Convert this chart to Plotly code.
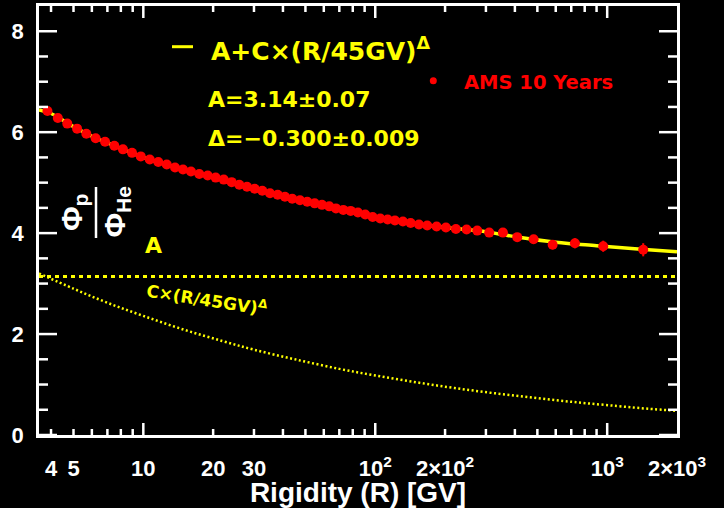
import plotly.graph_objects as go
import math

# ---- data ----
rigidity = [3.86, 4.28, 4.70, 5.18, 5.68, 6.23, 6.84, 7.50, 8.17, 8.94, 9.75, 10.66, 11.60,
            12.62, 13.70, 14.83, 16.05, 17.43, 18.95, 20.51, 22.22, 24.04, 25.93, 27.99,
            30.21, 32.58, 35.17, 37.96, 40.81, 43.87, 47.36, 50.91, 54.81, 58.93, 63.34,
            67.70, 72.81, 78.34, 84.20, 90.55, 97.45, 105.1, 113.1, 121.6, 131.6, 142.1,
            154.3, 167.5, 183.9, 201.7, 222.7, 247.7, 275.3, 310.0, 355.1, 409.4, 481.7,
            581.9, 726.0, 961.2, 1430.0]
ratio = [6.42, 6.28, 6.17, 6.07, 5.97, 5.88, 5.81, 5.73, 5.66, 5.59, 5.52, 5.46, 5.41,
         5.36, 5.30, 5.26, 5.22, 5.17, 5.14, 5.10, 5.06, 5.01, 4.96, 4.92,
         4.88, 4.84, 4.79, 4.76, 4.72, 4.68, 4.65, 4.62, 4.59, 4.56, 4.53,
         4.49, 4.46, 4.44, 4.41, 4.37, 4.32, 4.29, 4.27, 4.25, 4.23, 4.20,
         4.17, 4.15, 4.13, 4.11, 4.08, 4.07, 4.05, 4.01, 4.01, 3.92, 3.88,
         3.77, 3.80, 3.74, 3.67]
ratio_err = [0.02] * 53 + [0.03, 0.04, 0.05, 0.06, 0.09, 0.10, 0.11, 0.13]

# fitted curve A + C x (R/45GV)^Delta
fit_r = [3.55, 4, 5, 6, 8, 10, 13, 17, 22, 30, 40, 55, 75, 100, 140, 200, 280, 400,
         600, 900, 1400, 2000]
fit_val = [6.44, 6.37, 6.11, 5.92, 5.68, 5.50, 5.34, 5.185, 5.065, 4.884, 4.73, 4.588,
           4.452, 4.31, 4.205, 4.11, 4.045, 3.93, 3.82, 3.75, 3.68, 3.63]
# C x (R/45GV)^Delta component
c_r = [3.55, 5, 7, 10, 15, 22, 30, 45, 70, 100, 150, 220, 330, 500, 750, 1100, 1500, 2000]
c_val = [3.20, 2.90, 2.62, 2.36, 2.085, 1.86, 1.69, 1.50, 1.31, 1.18, 1.045, 0.93, 0.825,
         0.73, 0.645, 0.575, 0.52, 0.48]
A_value = 3.14
a_line_r = [3.55, 2000]

x_label_vals = [4, 5, 10, 20, 30, 100, 200, 1000, 2000]
x_label_text = ["4", "5", "10", "20", "30", "10<sup>2</sup>", "2\u00d710<sup>2</sup>",
                "10<sup>3</sup>", "2\u00d710<sup>3</sup>"]
x_major = [10, 100, 1000]
x_minor = [4, 5, 6, 7, 8, 9, 20, 30, 40, 50, 60, 70, 80, 90,
           200, 300, 400, 500, 600, 700, 800, 900]
y_label_vals = [0, 2, 4, 6, 8]
y_minor = [0.5, 1, 1.5, 2.5, 3, 3.5, 4.5, 5, 5.5, 6.5, 7, 7.5]

R_MIN, R_MAX = 3.55, 2000
X_RANGE = [math.log10(R_MIN), math.log10(R_MAX)]
Y_RANGE = [0, 8.5]

W, H = 724, 508
M_L, M_R, M_T, M_B = 39, 47, 6, 73
PLOT_W = W - M_L - M_R
PLOT_H = H - M_T - M_B

YEL = "#FFFF00"
RED = "#FF0000"
ANN_FONT = "DejaVu Sans"
AX_FONT = "Liberation Sans"

fig = go.Figure()

fig.add_trace(go.Scatter(x=c_r, y=c_val, mode="lines",
                         line=dict(color=YEL, width=2.5, dash="2px,2.5px", shape="spline"),
                         showlegend=False, hoverinfo="skip"))
fig.add_trace(go.Scatter(x=a_line_r, y=[A_value] * len(a_line_r), mode="lines",
                         line=dict(color=YEL, width=3, dash="4px,4px"),
                         showlegend=False, hoverinfo="skip"))
fig.add_trace(go.Scatter(x=fit_r, y=fit_val, mode="lines",
                         line=dict(color=YEL, width=3.5, shape="spline"),
                         showlegend=False, hoverinfo="skip"))
fig.add_trace(go.Scatter(x=rigidity, y=ratio, mode="markers",
                         marker=dict(color=RED, size=10, line=dict(width=0)),
                         error_y=dict(type="data", array=ratio_err, color=RED, thickness=2, width=0),
                         showlegend=False))

fig.update_layout(
    width=W, height=H, autosize=False,
    margin=dict(l=M_L, r=M_R, t=M_T, b=M_B, autoexpand=False),
    paper_bgcolor="black", plot_bgcolor="black",
    font=dict(family=AX_FONT, color="white"),
    xaxis=dict(type="log", range=X_RANGE, tickvals=x_label_vals, ticktext=x_label_text,
               ticks="", showgrid=False, zeroline=False, showline=True, linecolor="white",
               linewidth=2.5, mirror=True, ticklabelstandoff=12, automargin=False,
               tickfont=dict(family=AX_FONT, size=22, color="white", weight="bold"),
               title=dict(text="Rigidity (R) [GV]", standoff=9,
                          font=dict(family=AX_FONT, size=28, color="white", weight="bold"))),
    yaxis=dict(range=Y_RANGE, tickvals=y_label_vals, ticks="", showgrid=False, zeroline=False,
               showline=True, linecolor="white", linewidth=2.5, mirror=True, automargin=False,
               ticklabelstandoff=8,
               tickfont=dict(family=AX_FONT, size=22, color="white", weight="bold")),
)


def px_x(px):
    return (px - M_L) / PLOT_W


def px_y(py):
    return (H - M_B - py) / PLOT_H


def x_frac(v):
    """Position of a rigidity value along the log x axis, as a paper fraction."""
    return (math.log10(v) - X_RANGE[0]) / (X_RANGE[1] - X_RANGE[0])


def y_frac(v):
    """Position of a ratio value along the y axis, as a paper fraction."""
    return (v - Y_RANGE[0]) / (Y_RANGE[1] - Y_RANGE[0])


shapes = []
TICK = dict(color="white", width=2.5)
# inside tick marks on all four sides of the frame
for vals, ln in [(y_label_vals, 18), (y_minor, 9)]:
    d = ln / PLOT_W
    for v in vals:
        yf = y_frac(v)
        shapes.append(dict(type="line", xref="paper", yref="paper", x0=0, x1=d,
                           y0=yf, y1=yf, line=TICK))
        shapes.append(dict(type="line", xref="paper", yref="paper", x0=1 - d, x1=1,
                           y0=yf, y1=yf, line=TICK))
for vals, ln in [(x_major, 12), (x_minor, 6)]:
    d = ln / PLOT_H
    for v in vals:
        xf = x_frac(v)
        shapes.append(dict(type="line", xref="paper", yref="paper", x0=xf, x1=xf,
                           y0=0, y1=d, line=TICK))
        shapes.append(dict(type="line", xref="paper", yref="paper", x0=xf, x1=xf,
                           y0=1 - d, y1=1, line=TICK))

shapes.append(dict(type="line", xref="paper", yref="paper", x0=px_x(96), x1=px_x(96),
                   y0=px_y(238), y1=px_y(187), line=dict(color="white", width=2.5)))
shapes.append(dict(type="line", xref="paper", yref="paper", x0=px_x(172), x1=px_x(193),
                   y0=px_y(46.7), y1=px_y(46.7), line=dict(color=YEL, width=3)))
shapes.append(dict(type="circle", xref="paper", yref="paper", x0=px_x(429.8), x1=px_x(436.8),
                   y0=px_y(84.2), y1=px_y(77.2), fillcolor=RED, line=dict(width=0)))
fig.update_layout(shapes=shapes)

ann = []
ann.append(dict(x=px_x(209), y=px_y(50), xref="paper", yref="paper", xanchor="left", yanchor="middle",
                text="A+C\u00d7(R/45GV)<sup>\u0394</sup>", showarrow=False,
                font=dict(family=ANN_FONT, size=25, color=YEL, weight="bold")))
ann.append(dict(x=px_x(206), y=px_y(99), xref="paper", yref="paper", xanchor="left", yanchor="middle",
                text="A=3.14\u00b10.07", showarrow=False,
                font=dict(family=ANN_FONT, size=22, color=YEL, weight="bold")))
ann.append(dict(x=px_x(206), y=px_y(138), xref="paper", yref="paper", xanchor="left", yanchor="middle",
                text="\u0394=\u22120.300\u00b10.009", showarrow=False,
                font=dict(family=ANN_FONT, size=22, color=YEL, weight="bold")))
ann.append(dict(x=px_x(462), y=px_y(82), xref="paper", yref="paper", xanchor="left", yanchor="middle",
                text="AMS 10 Years", showarrow=False,
                font=dict(family=ANN_FONT, size=19.5, color=RED, weight="bold")))
ann.append(dict(x=px_x(153.5), y=px_y(245), xref="paper", yref="paper", xanchor="center", yanchor="middle",
                text="A", showarrow=False,
                font=dict(family=ANN_FONT, size=22, color=YEL, weight="bold")))
ann.append(dict(x=px_x(207), y=px_y(299), xref="paper", yref="paper", xanchor="center", yanchor="middle",
                text="C\u00d7(R/45GV)<sup>\u0394</sup>", showarrow=False, textangle=9,
                font=dict(family=ANN_FONT, size=17, color=YEL, weight="bold")))
ann.append(dict(x=px_x(73.5), y=px_y(212.5), xref="paper", yref="paper", xanchor="center", yanchor="middle",
                text="\u03a6<sub>p</sub>", showarrow=False, textangle=-90,
                font=dict(family=AX_FONT, size=30, color="white", weight="bold")))
ann.append(dict(x=px_x(116), y=px_y(212.5), xref="paper", yref="paper", xanchor="center", yanchor="middle",
                text="\u03a6<sub>He</sub>", showarrow=False, textangle=-90,
                font=dict(family=AX_FONT, size=30, color="white", weight="bold")))
fig.update_layout(annotations=ann)

fig.write_html("out.html")
